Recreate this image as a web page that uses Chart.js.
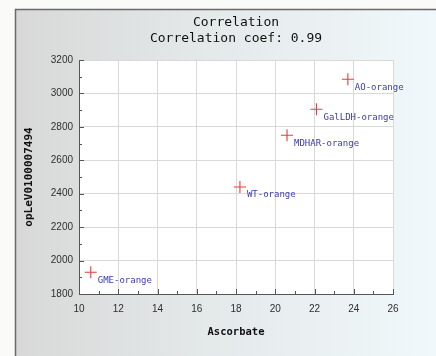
<!DOCTYPE html>
<html>
<head>
<meta charset="utf-8">
<script src="https://cdn.jsdelivr.net/npm/chart.js@4/dist/chart.umd.min.js"></script>
<style>
  html, body { margin: 0; padding: 0; background: #fafaf8; }
  #wrap { width: 436px; height: 356px; }
</style>
</head>
<body>
<div id="wrap"><canvas id="c" width="436" height="356"></canvas></div>
<script>
// ── DATA ────────────────────────────────────────────────────────────────────
const pointNames = ['GME-orange', 'WT-orange', 'MDHAR-orange', 'GalLDH-orange', 'AO-orange'];
const ascorbate  = [10.6, 18.2, 20.6, 22.1, 23.7];
const opLeValues = [1930, 2440, 2750, 2905, 3085];
const titleLines = ['Correlation', 'Correlation coef: 0.99'];
const xTitle = 'Ascorbate';
const yTitle = 'opLeV0100007494';

// ── STYLE ───────────────────────────────────────────────────────────────────
const MONO  = 'DejaVu Sans Mono';
const SANS  = 'Liberation Sans';
const GRID  = '#d9d9d9';
const AXIS  = '#555555';
const TICKC = '#2e2e2e';

// panel behind everything + white plot area
const panelBg = {
  id: 'panelBg',
  beforeDraw(chart) {
    const { ctx, width, height, chartArea: a } = chart;
    ctx.save();
    ctx.fillStyle = '#fafaf8';
    ctx.fillRect(0, 0, width, height);
    const g = ctx.createLinearGradient(15, 0, width, 0);
    g.addColorStop(0, '#d8d8d8');
    g.addColorStop(0.55, '#e6eced');
    g.addColorStop(1, '#f1f8fb');
    ctx.fillStyle = g;
    ctx.fillRect(15, 9, width - 15, height - 9);
    ctx.strokeStyle = '#6a6a6a';
    ctx.lineWidth = 1.5;
    ctx.beginPath();
    ctx.moveTo(15.5, height);
    ctx.lineTo(15.5, 9.5);
    ctx.lineTo(width, 9.5);
    ctx.stroke();
    ctx.fillStyle = '#ffffff';
    ctx.fillRect(a.left, a.top, a.right - a.left, a.bottom - a.top);
    ctx.restore();
  }
};

// small inward tick marks on both axes (major + minor)
const innerTicks = {
  id: 'innerTicks',
  afterDraw(chart) {
    const { ctx, scales: { x, y }, chartArea: a } = chart;
    ctx.save();
    ctx.strokeStyle = AXIS;
    ctx.lineWidth = 1;
    ctx.beginPath();
    for (let v = x.min; v <= x.max; v += 1) {
      const px = Math.round(x.getPixelForValue(v)) + 0.5;
      const len = v % 2 === 0 ? 5 : 3;
      ctx.moveTo(px, a.bottom);
      ctx.lineTo(px, a.bottom - len);
    }
    for (let v = y.min; v <= y.max; v += 100) {
      const py = Math.round(y.getPixelForValue(v)) + 0.5;
      const len = v % 200 === 0 ? 5 : 3;
      ctx.moveTo(a.left, py);
      ctx.lineTo(a.left + len, py);
    }
    ctx.stroke();
    ctx.restore();
  }
};

// blue name beside every cross
const pointLabels = {
  id: 'pointLabels',
  afterDatasetsDraw(chart) {
    const { ctx } = chart;
    const meta = chart.getDatasetMeta(0);
    ctx.save();
    ctx.font = '9px "' + MONO + '"';
    ctx.fillStyle = '#3a3ab4';
    ctx.textAlign = 'left';
    ctx.textBaseline = 'middle';
    meta.data.forEach((pt, i) => {
      ctx.fillText(pointNames[i], pt.x + 7, pt.y + 8);
    });
    ctx.restore();
  }
};

new Chart(document.getElementById('c'), {
  type: 'scatter',
  data: {
    datasets: [{
      data: ascorbate.map((v, i) => ({ x: v, y: opLeValues[i] })),
      pointStyle: 'cross',
      pointRadius: 6,
      pointHoverRadius: 6,
      borderColor: '#ea3a40',
      backgroundColor: '#ea3a40',
      pointBorderWidth: 1.1,
    }]
  },
  options: {
    responsive: false,
    animation: false,
    events: [],
    layout: { padding: { left: 15, right: 43, top: 0, bottom: 0 } },
    plugins: {
      legend: { display: false },
      tooltip: { enabled: false },
      title: {
        display: true,
        text: titleLines,
        fullSize: false,
        color: '#111',
        font: { family: MONO, size: 13, weight: 'normal', lineHeight: 1.25 },
        padding: { top: 14, bottom: 13.5 },
      },
    },
    scales: {
      x: {
        type: 'linear',
        min: 10, max: 26,
        afterFit(s) { s.height = 62; },
        ticks: { stepSize: 2, padding: 9, color: TICKC, font: { family: SANS, size: 10 },
                 callback: v => String(v) },
        grid: { color: GRID, drawTicks: false },
        border: { color: AXIS, width: 1 },
        title: {
          display: true, text: xTitle, color: '#111',
          font: { family: MONO, size: 10.5, weight: 'bold', lineHeight: 1.2 },
          padding: { top: 0, bottom: 17 },
        },
      },
      y: {
        type: 'linear',
        min: 1800, max: 3200,
        afterFit(s) { s.width = 64; },
        ticks: { stepSize: 200, padding: 6, color: TICKC, font: { family: SANS, size: 10 },
                 callback: v => String(v) },
        grid: { color: GRID, drawTicks: false },
        border: { color: AXIS, width: 1 },
        title: {
          display: true, text: yTitle, color: '#111',
          font: { family: MONO, size: 11, weight: 'bold', lineHeight: 1.2 },
          padding: { top: 8, bottom: 0 },
        },
      },
    },
  },
  plugins: [panelBg, innerTicks, pointLabels],
});
</script>
</body>
</html>
